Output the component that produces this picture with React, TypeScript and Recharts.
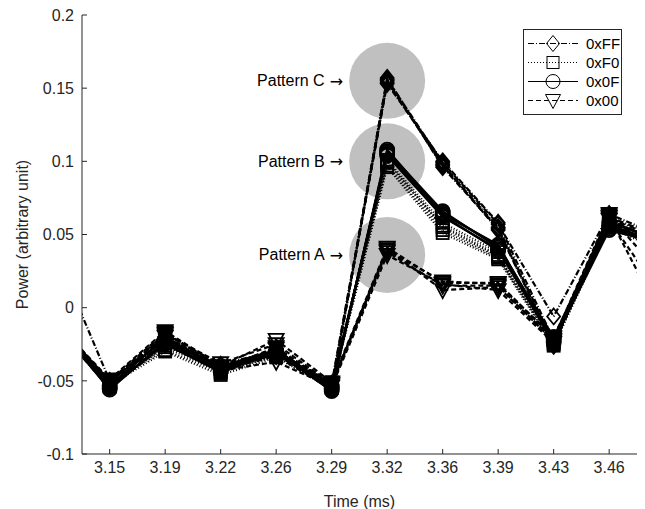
import { Legend, Line, LineChart, ReferenceDot, XAxis, YAxis } from "recharts";

// sample times (ms); first and last fall outside the visible window
const times = [3.1187, 3.153, 3.1873, 3.2216, 3.2559, 3.2902, 3.3245, 3.3588, 3.3931, 3.4274, 3.4617, 3.496];
const xTicks = times.slice(1, 11);
const yTicks = [-0.1, -0.05, 0, 0.05, 0.1, 0.15, 0.2];

const codes = ["0xFF", "0xF0", "0x0F", "0x00"];

// 0xFF traces (Pattern C)
const traceFF = [
  [0.04, -0.05, -0.02, -0.04, -0.03, -0.052, 0.156, 0.099, 0.057, -0.006, 0.064, 0.048],
  [-0.01, -0.053, -0.023, -0.042, -0.032, -0.055, 0.155, 0.097, 0.055, -0.024, 0.061, 0.046],
  [-0.008, -0.051, -0.018, -0.039, -0.029, -0.053, 0.153, 0.1, 0.058, -0.022, 0.06, 0.044],
  [-0.012, -0.055, -0.025, -0.043, -0.033, -0.056, 0.157, 0.096, 0.054, -0.026, 0.062, 0.047],
  [-0.009, -0.052, -0.021, -0.041, -0.031, -0.054, 0.154, 0.098, 0.053, -0.025, 0.059, 0.045],
];
// 0xF0 traces (Pattern B, squares)
const traceF0 = [
  [-0.011, -0.051, -0.029, -0.044, -0.033, -0.052, 0.099, 0.056, 0.036, -0.023, 0.057, 0.041],
  [-0.009, -0.054, -0.026, -0.042, -0.031, -0.054, 0.097, 0.053, 0.034, -0.025, 0.056, 0.043],
  [-0.013, -0.05, -0.024, -0.045, -0.03, -0.051, 0.101, 0.058, 0.038, -0.021, 0.058, 0.04],
  [-0.01, -0.053, -0.03, -0.046, -0.034, -0.055, 0.096, 0.051, 0.033, -0.026, 0.055, 0.038],
  [-0.012, -0.052, -0.027, -0.043, -0.032, -0.053, 0.1, 0.055, 0.035, -0.024, 0.057, 0.042],
];
// 0x0F traces (Pattern B, circles)
const trace0F = [
  [-0.01, -0.056, -0.023, -0.041, -0.03, -0.057, 0.107, 0.066, 0.041, -0.022, 0.056, 0.044],
  [-0.008, -0.053, -0.021, -0.04, -0.029, -0.054, 0.105, 0.063, 0.039, -0.02, 0.054, 0.046],
  [-0.011, -0.055, -0.024, -0.043, -0.031, -0.056, 0.108, 0.064, 0.043, -0.023, 0.053, 0.043],
  [-0.009, -0.05, -0.022, -0.042, -0.032, -0.053, 0.104, 0.062, 0.04, -0.024, 0.058, 0.045],
  [-0.012, -0.054, -0.025, -0.044, -0.03, -0.055, 0.106, 0.065, 0.042, -0.021, 0.055, 0.042],
];
// 0x00 traces (Pattern A)
const trace00 = [
  [-0.009, -0.049, -0.016, -0.04, -0.022, -0.051, 0.041, 0.017, 0.017, -0.021, 0.064, 0.03],
  [-0.011, -0.052, -0.019, -0.042, -0.027, -0.053, 0.038, 0.015, 0.015, -0.023, 0.062, -0.011],
  [-0.01, -0.051, -0.018, -0.038, -0.025, -0.052, 0.04, 0.012, 0.014, -0.022, 0.063, 0.02],
  [-0.012, -0.054, -0.02, -0.043, -0.037, -0.054, 0.036, 0.016, 0.012, -0.024, 0.061, 0.035],
  [-0.008, -0.05, -0.017, -0.041, -0.028, -0.052, 0.039, 0.018, 0.016, -0.02, 0.06, 0.005],
];

const patternLabels = ["Pattern C", "Pattern B", "Pattern A"];
const patternLevels = [0.155, 0.1, 0.036];

type Shape = "diamond" | "square" | "circle" | "triangle";
const codeStyle: Record<string, { shape: Shape; dash?: string }> = {
  "0xFF": { shape: "diamond", dash: "6 2 1 2" },
  "0xF0": { shape: "square", dash: "1 2" },
  "0x0F": { shape: "circle" },
  "0x00": { shape: "triangle", dash: "5 3" },
};
const traceSets: Record<string, number[][]> = {
  "0xFF": traceFF,
  "0xF0": traceF0,
  "0x0F": trace0F,
  "0x00": trace00,
};

const series = codes.flatMap((code) =>
  traceSets[code].map((_, i) => ({ key: `${code}_${i}`, code }))
);

const rows = times.map((t, i) => {
  const row: Record<string, number> = { t };
  codes.forEach((code) =>
    traceSets[code].forEach((tr, k) => {
      row[`${code}_${k}`] = tr[i];
    })
  );
  return row;
});

const INK = "#262626";
const FONT = "'Liberation Sans', Arial, Helvetica, sans-serif";

function Marker({ shape, cx, cy, w = 1.8 }: { shape: Shape; cx: number; cy: number; w?: number }) {
  const common = { fill: "none", stroke: "#000", strokeWidth: w };
  if (shape === "diamond")
    return <polygon {...common} points={`${cx},${cy - 8} ${cx + 6.5},${cy} ${cx},${cy + 8} ${cx - 6.5},${cy}`} />;
  if (shape === "square") return <rect {...common} x={cx - 6} y={cy - 6} width={12} height={12} />;
  if (shape === "circle") return <circle {...common} cx={cx} cy={cy} r={7} />;
  return <polygon {...common} points={`${cx - 7.5},${cy - 6} ${cx + 7.5},${cy - 6} ${cx},${cy + 8}`} />;
}

function PatternText({ viewBox, text }: { viewBox?: any; text: string }) {
  if (!viewBox) return null;
  return (
    <text
      x={viewBox.x - 6}
      y={viewBox.y + viewBox.height / 2}
      textAnchor="end"
      dominantBaseline="central"
      fontSize={16}
      fontFamily={FONT}
      fill="#000"
    >
      {text}
      <tspan fontFamily="'DejaVu Sans', sans-serif" fontSize={16}>{" \u2192"}</tspan>
    </text>
  );
}

function LegendBox() {
  return (
    <div
      style={{
        border: `1px solid ${INK}`,
        background: "#fff",
        padding: "4px 0",
        fontFamily: FONT,
        fontSize: 15,
        color: "#000",
      }}
    >
      {codes.map((code) => {
        const st = codeStyle[code];
        return (
          <div key={code} style={{ display: "flex", alignItems: "center", height: 19 }}>
            <svg width={58} height={19}>
              <line x1={4} x2={54} y1={9.5} y2={9.5} stroke="#000" strokeDasharray={st.dash} />
              <Marker shape={st.shape} cx={29} cy={9.5} w={1} />
            </svg>
            <span style={{ marginLeft: 4 }}>{code}</span>
          </div>
        );
      })}
    </div>
  );
}

export default function App() {
  return (
    <div style={{ position: "absolute", left: 0, top: 0, background: "#fff" }}>
      <LineChart
        width={645}
        height={509}
        data={rows}
        margin={{ top: 15, right: 8, bottom: 0, left: 0 }}
        style={{ fontFamily: FONT }}
      >
        {patternLabels.map((lab, i) => (
          <ReferenceDot
            key={lab}
            x={times[6]}
            y={patternLevels[i]}
            r={38}
            fill="#c0c0c0"
            stroke="none"
            zIndex={-50}
            label={(p: any) => <PatternText viewBox={p.viewBox} text={lab} />}
          />
        ))}
        <XAxis
          dataKey="t"
          type="number"
          domain={[3.1359, 3.4789]}
          allowDataOverflow
          ticks={xTicks}
          tickFormatter={(v: number) => v.toFixed(2)}
          interval={0}
          height={55}
          stroke={INK}
          tickSize={-5}
          tickMargin={13}
          tick={{ fill: INK, fontSize: 16 }}
          label={{ value: "Time (ms)", position: "insideBottom", offset: 2, fill: INK, fontSize: 16 }}
        />
        <YAxis
          type="number"
          domain={[-0.1, 0.2]}
          allowDataOverflow
          ticks={yTicks}
          width={82}
          stroke={INK}
          tickSize={-5}
          tickMargin={13}
          tick={{ fill: INK, fontSize: 16 }}
          label={{
            value: "Power (arbitrary unit)",
            angle: -90,
            position: "insideLeft",
            offset: 22,
            fill: INK,
            fontSize: 16,
            style: { textAnchor: "middle" },
          }}
        />
        {series.map((s) => {
          const st = codeStyle[s.code];
          return (
            <Line
              key={s.key}
              dataKey={s.key}
              stroke="#000"
              strokeWidth={2.2}
              strokeDasharray={st.dash}
              isAnimationActive={false}
              dot={(p: any) => <Marker key={`${s.key}-${p.index}`} shape={st.shape} cx={p.cx} cy={p.cy} />}
              activeDot={false}
            />
          );
        })}
        <Legend
          layout="vertical"
          align="center"
          verticalAlign="middle"
          wrapperStyle={{ top: 29, left: 523, width: 99 }}
          content={() => <LegendBox />}
        />
      </LineChart>
    </div>
  );
}
